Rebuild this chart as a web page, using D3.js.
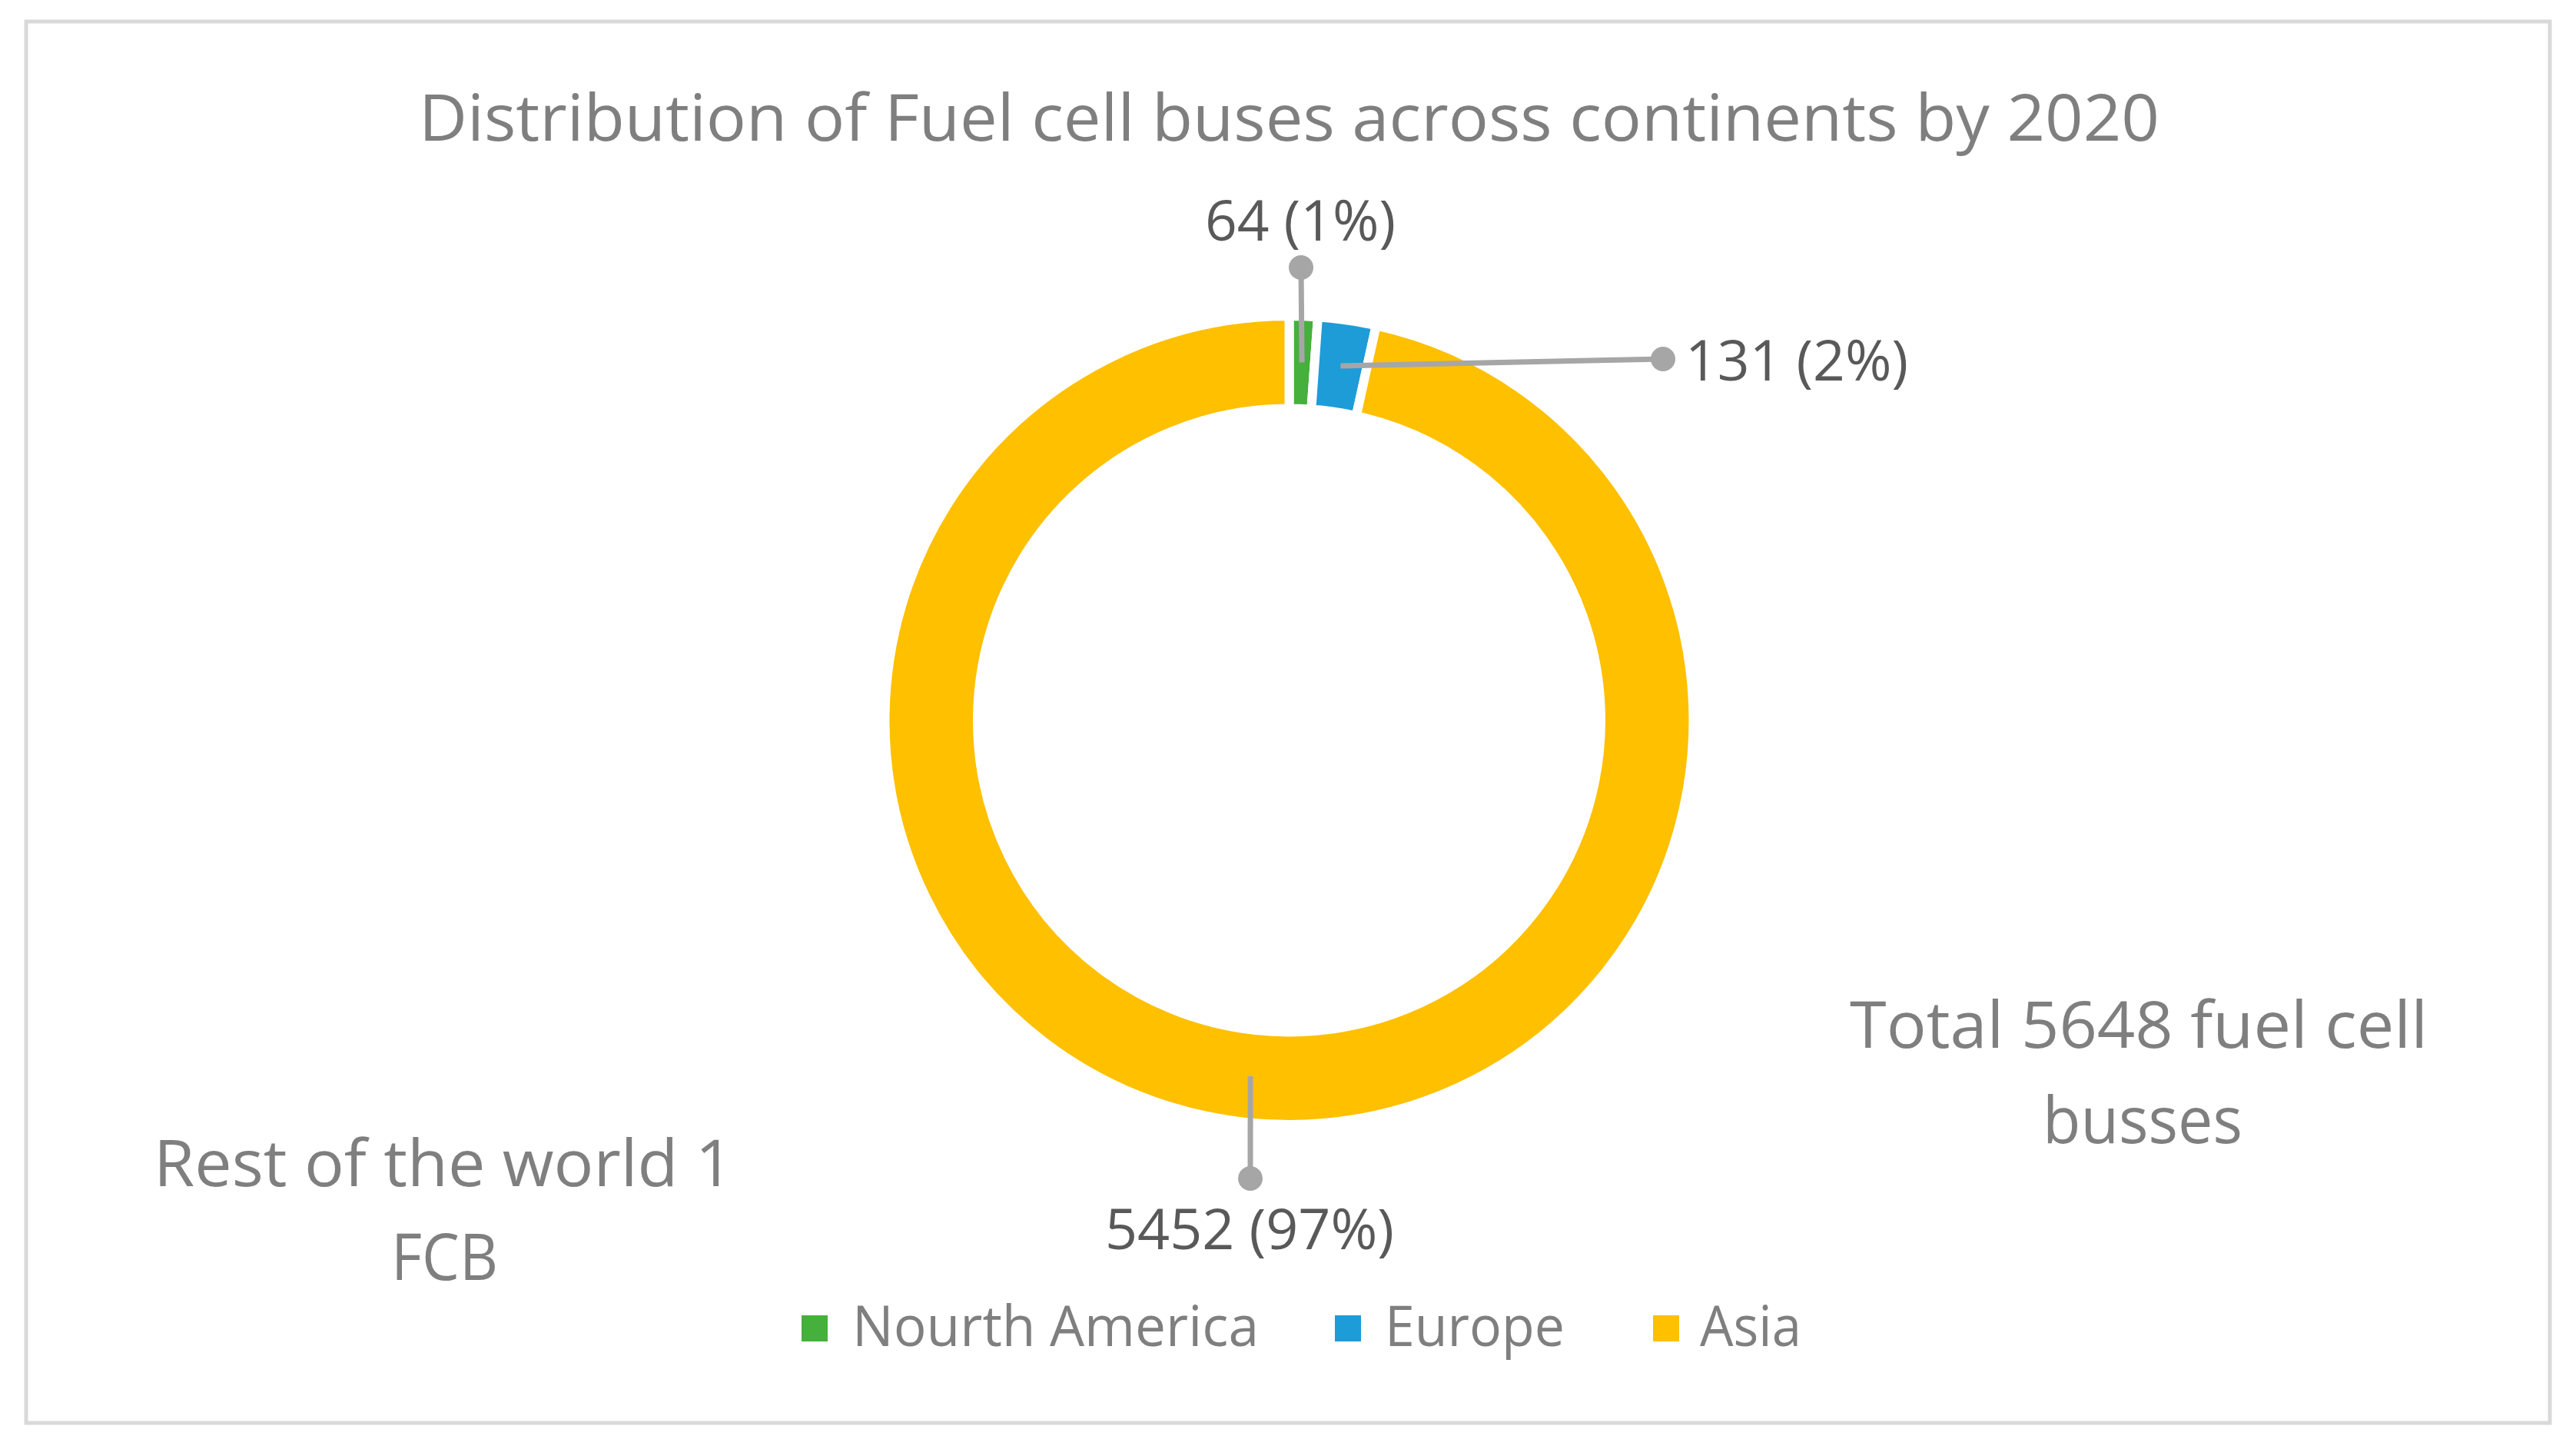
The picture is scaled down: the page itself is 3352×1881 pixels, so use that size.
<!DOCTYPE html>
<html>
<head>
<meta charset="utf-8">
<script src="https://cdn.jsdelivr.net/npm/d3@7/dist/d3.min.js"></script>
<style>
  html, body { margin: 0; padding: 0; background: #ffffff; }
  svg { display: block; }
  text { font-family: "Open Sans", "Noto Sans", sans-serif; }
</style>
</head>
<body>
<svg id="chart" width="3352" height="1881"></svg>
<script>
// ---- data ----
const categories = ["Nourth America", "Europe", "Asia"];
const values = [64, 131, 5452];
const percentLabels = ["1%", "2%", "97%"];
const colors = ["#45B03C", "#1E9CD8", "#FFC000"];
const titleText = "Distribution of Fuel cell buses across continents by 2020";
const noteLeft = ["Rest of the world 1", "FCB"];
const noteRight = ["Total 5648 fuel cell", "busses"];

// ---- layout ----
const W = 3352, H = 1881;
const cx = 1677.5, cy = 937, rOuter = 526, rInner = 405.5;
const svg = d3.select("#chart");

svg.append("rect").attr("width", W).attr("height", H).attr("fill", "#ffffff");
svg.append("rect")
  .attr("x", 34).attr("y", 28).attr("width", 3284).attr("height", 1823)
  .attr("fill", "#ffffff").attr("stroke", "#D9D9D9").attr("stroke-width", 5);

function fitText(sel, x, y, width, size, color, str) {
  return sel.append("text")
    .attr("x", x).attr("y", y)
    .attr("font-size", size)
    .attr("fill", color)
    .attr("textLength", width)
    .attr("lengthAdjust", "spacingAndGlyphs")
    .text(str);
}

// title
fitText(svg, 545, 183, 2265, 85, "#7F7F7F", titleText);

// donut
const pie = d3.pie().sort(null).value(d => d)(values);
const arc = d3.arc().innerRadius(rInner).outerRadius(rOuter);
const g = svg.append("g").attr("transform", `translate(${cx},${cy})`);
g.selectAll("path.slice").data(pie).join("path")
  .attr("class", "slice")
  .attr("d", arc)
  .attr("fill", (d, i) => colors[i])
  .attr("stroke", "#ffffff")
  .attr("stroke-width", 12)
  .attr("stroke-linejoin", "miter");

// data labels with leader lines (dot ends)
const labelLayout = [
  { dot: [1693, 348], tx: 1568, ty: 313, tw: 248 },
  { dot: [2164, 467], tx: 2193, ty: 495, tw: 290 },
  { dot: [1627, 1533], tx: 1438, ty: 1625, tw: 376 }
];
pie.forEach((d, i) => {
  const c = arc.centroid(d);
  const L = labelLayout[i];
  svg.append("line")
    .attr("x1", cx + c[0]).attr("y1", cy + c[1])
    .attr("x2", L.dot[0]).attr("y2", L.dot[1])
    .attr("stroke", "#A6A6A6").attr("stroke-width", 7);
  svg.append("circle")
    .attr("cx", L.dot[0]).attr("cy", L.dot[1]).attr("r", 16)
    .attr("fill", "#A6A6A6");
  fitText(svg, L.tx, L.ty, L.tw, 73, "#595959", `${values[i]} (${percentLabels[i]})`);
});

// annotations
fitText(svg, 200, 1543, 754, 85, "#7F7F7F", noteLeft[0]);
fitText(svg, 509, 1665, 139, 85, "#7F7F7F", noteLeft[1]);
fitText(svg, 2407, 1363, 752, 85, "#7F7F7F", noteRight[0]);
fitText(svg, 2658, 1487, 260, 85, "#7F7F7F", noteRight[1]);

// legend
const legendLayout = [
  { sx: 1043, tx: 1109, tw: 529 },
  { sx: 1737, tx: 1802, tw: 234 },
  { sx: 2151, tx: 2212, tw: 132 }
];
categories.forEach((name, i) => {
  const L = legendLayout[i];
  svg.append("rect")
    .attr("x", L.sx).attr("y", 1711).attr("width", 34).attr("height", 34)
    .attr("fill", colors[i]);
  fitText(svg, L.tx, 1751, L.tw, 74, "#7F7F7F", name);
});
</script>
</body>
</html>
